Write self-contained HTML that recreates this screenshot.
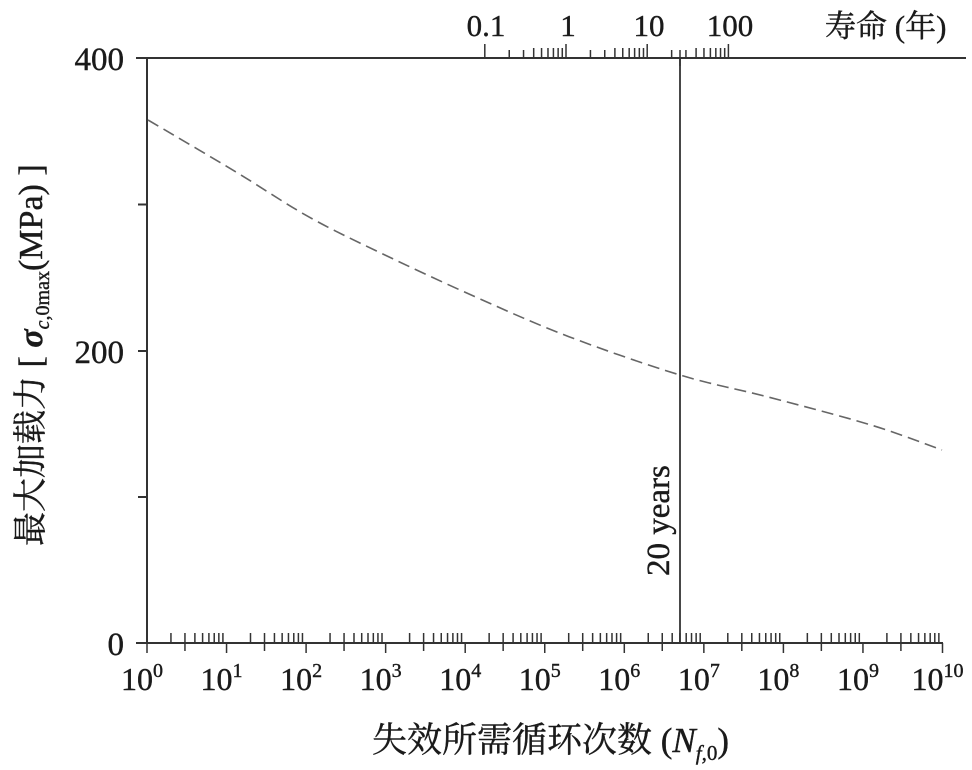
<!DOCTYPE html>
<html><head><meta charset="utf-8"><style>
html,body{margin:0;padding:0;background:#fff;}
svg{display:block;}
text{font-family:"Liberation Serif","Noto Serif CJK SC",serif;fill:#1a1a1a;stroke:#1a1a1a;stroke-width:0.4;}
</style></head><body>
<svg id="s" width="972" height="770" viewBox="0 0 972 770" xmlns="http://www.w3.org/2000/svg">
<g stroke="#333" stroke-width="2" fill="none">
<line x1="136" y1="58" x2="966" y2="58"/>
<line x1="147" y1="58" x2="147" y2="643"/>
<line x1="136" y1="643" x2="943" y2="643"/>
<line x1="680" y1="58" x2="680" y2="643" stroke-width="1.8"/>
<line x1="138" y1="204.5" x2="147" y2="204.5"/>
<line x1="138" y1="351" x2="147" y2="351"/>
<line x1="138" y1="497" x2="147" y2="497"/>
</g>
<g id="ticks" stroke="#333" stroke-width="1.5"></g>
<path id="curve" d="" stroke="#666" stroke-width="1.6" fill="none" stroke-dasharray="12,6"/>
<g font-size="33" text-anchor="end">
<text x="124" y="70">400</text>
<text x="124" y="363">200</text>
<text x="124" y="655">0</text>
</g>
<g id="xl" font-size="32" text-anchor="middle"></g>
<g font-size="31" text-anchor="middle">
<text x="486" y="36">0.1</text>
<text x="568" y="36">1</text>
<text x="649" y="36">10</text>
<text x="730" y="36">100</text>
</g>
<text x="825" y="37" font-size="31">寿命 (年)</text>
<text transform="translate(669,576) rotate(-90)" font-size="33">20 years</text>
<text transform="translate(42,546) rotate(-90)" font-size="34">最大加载力 [ <tspan font-style="italic" font-weight="bold">σ</tspan><tspan font-size="20" dy="7" font-style="italic">c,</tspan><tspan font-size="20">0max</tspan><tspan dy="-7">(MPa) ]</tspan></text>
<text x="372" y="752" font-size="35">失效所需循环次数 (<tspan font-style="italic">N</tspan><tspan font-size="21" dy="8" font-style="italic">f,</tspan><tspan font-size="21">0</tspan><tspan dy="-8">)</tspan></text>
</svg>
<script>
var g=document.getElementById('ticks'),xl=document.getElementById('xl'),ns='http://www.w3.org/2000/svg';
function L(x1,y1,x2,y2){var l=document.createElementNS(ns,'line');l.setAttribute('x1',x1);l.setAttribute('y1',y1);l.setAttribute('x2',x2);l.setAttribute('y2',y2);g.appendChild(l);}
var x0=147,d=79.55;
for(var k=0;k<=10;k++){var x=x0+k*d;L(x,643,x,653);
 var t=document.createElementNS(ns,'text');t.setAttribute('x',x-5);t.setAttribute('y',690);t.innerHTML='10<tspan font-size="20" dy="-13">'+k+'</tspan>';xl.appendChild(t);
 if(k<10)for(var m=2;m<=9;m++){var xx=x+Math.log10(m)*d;if(m==3)L(xx,633,xx,651);else L(xx,633,xx,643);}}
var y0=566,dy=81.2;
for(var k=-1;k<=2;k++){var x=y0+k*dy;L(x,58,x,44);
 if(k<2)for(var m=2;m<=9;m++){var xx=x+Math.log10(m)*dy;L(xx,58,xx,(m==2||m==3)?50:48);}}
L(680,50,680,66);
var P=[[148,120],[235.5,171.7],[308.5,216.7],[381.4,253.3],[475,296.7],[569,336.7],[680,375],[767,396.7],[871,425],[942,450]];
var s='M'+P[0][0]+','+P[0][1];
for(var i=0;i<P.length-1;i++){var p0=P[Math.max(0,i-1)],p1=P[i],p2=P[i+1],p3=P[Math.min(P.length-1,i+2)];
 var c1=[p1[0]+(p2[0]-p0[0])/6,p1[1]+(p2[1]-p0[1])/6],c2=[p2[0]-(p3[0]-p1[0])/6,p2[1]-(p3[1]-p1[1])/6];
 s+=' C'+c1+' '+c2+' '+p2;}
document.getElementById('curve').setAttribute('d',s);
</script>
</body></html>
